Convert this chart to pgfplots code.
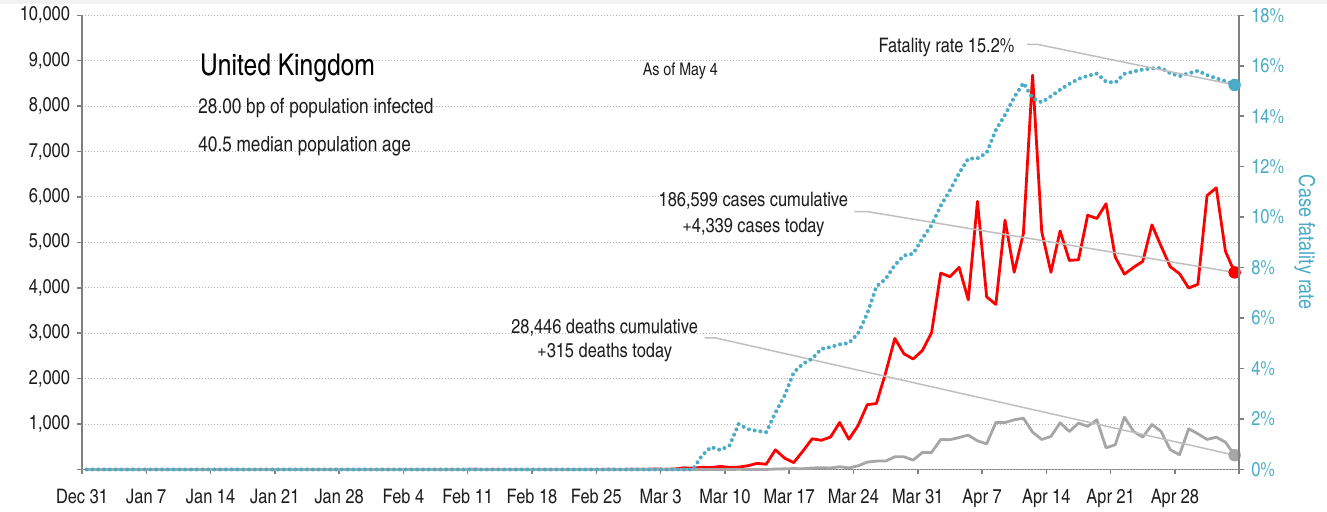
\documentclass[border=0pt]{standalone}
\usepackage{fontspec}
\IfFontExistsTF{texgyreheroscn-regular.otf}
  {\setmainfont{texgyreheroscn}[Extension=.otf,UprightFont=*-regular,BoldFont=*-bold,ItalicFont=*-italic,BoldItalicFont=*-bolditalic]}
  {\setmainfont{TeX Gyre Heros}}
\usepackage{pgfplots}
\pgfplotsset{compat=1.18}
\usepackage{pgfplotstable}
\usetikzlibrary{calc}

\definecolor{casered}{RGB}{255,0,0}
\definecolor{deathgray}{RGB}{166,166,166}
\definecolor{cfrblue}{RGB}{75,172,198}
\definecolor{leadgray}{RGB}{191,191,191}
\definecolor{axisgray}{RGB}{128,128,128}
\definecolor{txt}{RGB}{30,30,30}

% day 0 = Dec 31; daily new cases, daily deaths, case fatality rate (%)
\pgfplotstableread{
day cases deaths cfr
0 0 0 0
1 0 0 0
2 0 0 0
3 0 0 0
4 0 0 0
5 0 0 0
6 0 0 0
7 0 0 0
8 0 0 0
9 0 0 0
10 0 0 0
11 0 0 0
12 0 0 0
13 0 0 0
14 0 0 0
15 0 0 0
16 0 0 0
17 0 0 0
18 0 0 0
19 0 0 0
20 0 0 0
21 0 0 0
22 0 0 0
23 0 0 0
24 0 0 0
25 0 0 0
26 0 0 0
27 0 0 0
28 0 0 0
29 0 0 0
30 0 0 0
31 0 0 0
32 2 0 0
33 0 0 0
34 0 0 0
35 0 0 0
36 0 0 0
37 0 0 0
38 1 0 0
39 0 0 0
40 0 0 0
41 0 0 0
42 4 0 0
43 1 0 0
44 0 0 0
45 1 0 0
46 0 0 0
47 0 0 0
48 0 0 0
49 0 0 0
50 0 0 0
51 0 0 0
52 0 0 0
53 0 0 0
54 0 0 0
55 0 0 0
56 0 0 0
57 4 0 0
58 0 0 0
59 3 0 0
60 7 0 0
61 3 0 0
62 13 0 0
63 4 0 0
64 11 0 0
65 36 0 0
66 29 0 0
67 48 1 0.55
68 42 1 0.89
69 67 0 0.77
70 48 1 0.95
71 52 4 1.80
72 83 1 1.60
73 134 2 1.53
74 117 1 1.48
75 433 10 2.25
76 250 14 2.93
77 152 20 3.85
78 407 16 4.19
79 676 33 4.39
80 643 40 4.78
81 714 33 4.85
82 1035 60 4.96
83 665 35 5.01
84 967 80 5.39
85 1427 163 6.18
86 1452 185 7.25
87 2129 185 7.55
88 2885 279 8.10
89 2546 279 8.48
90 2433 207 8.55
91 2619 374 9.16
92 3009 374 9.68
93 4324 660 10.45
94 4244 656 11.06
95 4450 704 11.74
96 3735 757 12.32
97 5903 631 12.33
98 3802 565 12.55
99 3634 1034 13.45
100 5491 1034 14.05
101 4344 1094 14.75
102 5195 1130 15.32
103 8681 822 14.72
104 5233 661 14.55
105 4342 727 14.79
106 5252 1028 15.05
107 4603 837 15.28
108 4617 1020 15.48
109 5599 950 15.60
110 5526 1094 15.69
111 5850 478 15.37
112 4676 544 15.33
113 4301 1152 15.68
114 4451 837 15.77
115 4583 711 15.85
116 5386 991 15.90
117 4913 837 15.91
118 4463 434 15.70
119 4310 324 15.59
120 3996 896 15.70
121 4076 786 15.80
122 6032 661 15.63
123 6201 711 15.50
124 4806 601 15.39
125 4339 315 15.24
}\uk

\begin{document}
\begin{tikzpicture}
\path[use as bounding box] (-41pt,-21.25pt) rectangle (622.5pt,234.75pt);
\fill[black!5] (-41pt,232.75pt) rectangle (622.5pt,234.75pt);
\pgfplotsset{
  ukbase/.style={
    scale only axis, width=578.6pt, height=227.1pt,
    at={(0,0)}, anchor=south west,
    xmin=0, xmax=126, clip=false,
    /pgf/number format/assume math mode=true,
    tick label style={font=\fontsize{10}{12}\selectfont, text=txt},
    axis line style={axisgray, line width=0.75pt},
    tick style={axisgray, line width=0.75pt},
    tick align=outside,
    major tick length=2.5pt,
  }
}
\begin{axis}[ukbase,
  axis x line*=bottom, axis y line*=left,
  ymin=0, ymax=10000,
  scaled y ticks=false,
  ytick={1000,2000,...,10000},
  extra y ticks={0}, extra y tick labels={},
  y tick label style={/pgf/number format/1000 sep={,}},
  xtick={0,7,...,126},
  xticklabels={Dec 31,Jan 7,Jan 14,Jan 21,Jan 28,Feb 4,Feb 11,Feb 18,Feb 25,Mar 3,Mar 10,Mar 17,Mar 24,Mar 31,Apr 7,Apr 14,Apr 21,Apr 28,{}},
  x tick label style={yshift=-4pt},
  ymajorgrids,
  major grid style={draw=black!30, line width=0.5pt, dash pattern=on 0.5pt off 1pt},
]
\addplot[casered, line width=1.4pt, line join=round] table[x expr=\thisrow{day}+0.5, y=cases] {\uk};
\addplot[deathgray, line width=1.4pt, line join=round] table[x expr=\thisrow{day}+0.5, y=deaths] {\uk};

\draw[leadgray, line width=0.75pt] (axis cs:84.1,5678) -- (axis cs:85.5,5678) -- (axis cs:125.5,4339);
\draw[leadgray, line width=0.75pt] (axis cs:67.8,2896) -- (axis cs:69,2896) -- (axis cs:125.5,315);

\addplot[only marks, mark=*, mark size=2.9pt, casered, restrict x to domain=125:126] table[x expr=\thisrow{day}+0.5, y=cases] {\uk};
\addplot[only marks, mark=*, mark size=2.9pt, deathgray, restrict x to domain=125:126] table[x expr=\thisrow{day}+0.5, y=deaths] {\uk};

\node[anchor=base west, font=\fontsize{15}{17}\selectfont, text=black] at (axis cs:12.1,8667) {United Kingdom};
\node[anchor=base west, font=\fontsize{10.5}{12}\selectfont, text=txt] at (axis cs:11.9,7846) {28.00 bp of population infected};
\node[anchor=base west, font=\fontsize{10.5}{12}\selectfont, text=txt] at (axis cs:11.9,7000) {40.5 median population age};
\node[anchor=base west, font=\fontsize{8.7}{10}\selectfont, text=txt] at (axis cs:60.3,8667) {As of May 4};
\node[anchor=base, font=\fontsize{10}{12}\selectfont, text=txt] at (axis cs:73.1,5789) {186,599 cases cumulative};
\node[anchor=base, font=\fontsize{10}{12}\selectfont, text=txt] at (axis cs:73.1,5225) {+4,339 cases today};
\node[anchor=base, font=\fontsize{10}{12}\selectfont, text=txt] at (axis cs:56.9,2985) {28,446 deaths cumulative};
\node[anchor=base, font=\fontsize{10}{12}\selectfont, text=txt] at (axis cs:56.9,2456) {+315 deaths today};
\node[anchor=base east, font=\fontsize{10}{12}\selectfont, text=txt] at (axis cs:102.3,9189) {Fatality rate 15.2\%};
\end{axis}

\begin{axis}[ukbase,
  axis x line=none, axis y line*=right,
  ymin=0, ymax=18,
  ytick={0,2,...,18},
  yticklabel={\pgfmathprintnumber{\tick}\%},
  y tick label style={text=cfrblue},
]
\addplot[cfrblue, line width=2pt, line cap=round, dash pattern=on 0pt off 2.9pt] table[x expr=\thisrow{day}+0.5, y=cfr] {\uk};
\draw[leadgray, line width=0.75pt] (axis cs:102.9,16.85) -- (axis cs:104,16.85) -- (axis cs:125.5,15.24);
\addplot[only marks, mark=*, mark size=2.9pt, cfrblue, restrict x to domain=125:126] table[x expr=\thisrow{day}+0.5, y=cfr] {\uk};
\node[rotate=-90, font=\fontsize{11}{13}\selectfont, text=cfrblue] at ($(rel axis cs:1,0.5)+(32.85pt,0)$) {Case fatality rate};
\end{axis}
\end{tikzpicture}
\end{document}
